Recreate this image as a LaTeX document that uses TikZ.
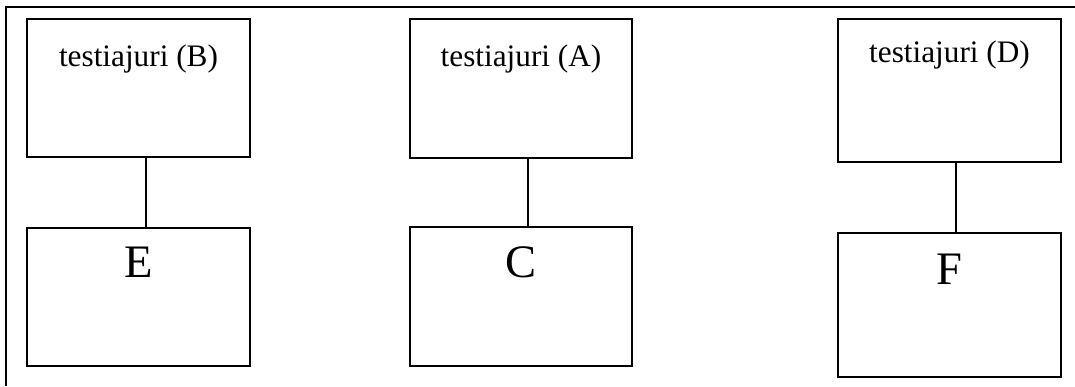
\documentclass[tikz,border=0pt]{standalone}
\usepackage{fontspec}
\setmainfont{Liberation Serif}
\usetikzlibrary{positioning,calc}

\begin{document}
\begin{tikzpicture}[x=0.02cm, y=-0.02cm,
    panel/.style={draw, line width=1.1pt, minimum width=4.46cm, minimum height=2.76cm, inner sep=0pt},
    jurytext/.style={anchor=base, inner sep=0pt, font=\fontsize{17.8}{21}\selectfont},
    member/.style={anchor=base, inner sep=0pt, font=\fontsize{26.5}{31}\selectfont},
    link/.style={line width=0.9pt}
]
    \useasboundingbox (0,0) rectangle (1075,386);

    % outer frame, only top and left edges show
    \coordinate (frameTL) at (6,7);
    \coordinate (frameTR) at (1075,7);
    \coordinate (frameBL) at (6,386);
    \draw[line width=0.9pt] (frameBL) -- (frameTL) -- (frameTR);

    % jury boxes
    \node[panel] (juryB) at (138.5,88) {};
    \node[panel, minimum width=4.44cm, minimum height=2.78cm] (juryA) at (521,88.5) {};
    \node[panel, minimum height=2.86cm] (juryD) at (949.5,90.5) {};

    \node[jurytext] (juryBtxt) at ([yshift=-0.96cm]juryB.north) {testiajuri (B)};
    \node[jurytext] (juryAtxt) at ([yshift=-0.96cm]juryA.north) {testiajuri (A)};
    \node[jurytext] (juryDtxt) at ([yshift=-0.88cm]juryD.north) {testiajuri (D)};

    % member boxes
    \node[panel] (memE) at (138.5,297) {};
    \node[panel, minimum width=4.44cm, minimum height=2.78cm] (memC) at (521,296.5) {};
    \node[panel, minimum height=2.88cm] (memF) at (949.5,305) {};

    \node[member] (memEtxt) at ([yshift=-1cm]memE.north) {E};
    \node[member] (memCtxt) at ([yshift=-1.02cm]memC.north) {C};
    \node[member] (memFtxt) at ([yshift=-1.04cm]memF.north) {F};

    % links
    \draw[link] ([xshift=0.15cm]juryB.south) -- ([xshift=0.15cm]juryB.south |- memE.north);
    \draw[link] ([xshift=0.14cm]juryA.south) -- ([xshift=0.14cm]juryA.south |- memC.north);
    \draw[link] ([xshift=0.13cm]juryD.south) -- ([xshift=0.13cm]juryD.south |- memF.north);
\end{tikzpicture}
\end{document}
